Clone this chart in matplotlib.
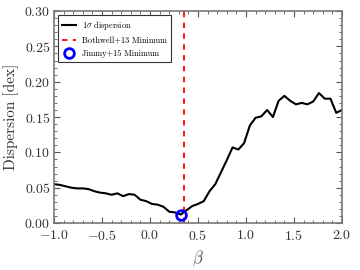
import matplotlib
matplotlib.use("Agg")
import matplotlib.pyplot as plt
from matplotlib.ticker import MultipleLocator, FuncFormatter

plt.rcParams['font.family'] = 'serif'
plt.rcParams['font.serif'] = ['cmr10', 'DejaVu Serif']
plt.rcParams['mathtext.fontset'] = 'cm'
plt.rcParams['axes.formatter.use_mathtext'] = True

beta = [-1.00, -0.94, -0.88, -0.82, -0.76, -0.70, -0.64, -0.58, -0.52, -0.46,
        -0.40, -0.34, -0.28, -0.22, -0.16, -0.10, -0.04, 0.02, 0.08, 0.14,
        0.20, 0.26, 0.32, 0.38, 0.44, 0.50, 0.56, 0.62, 0.68, 0.74,
        0.80, 0.86, 0.92, 0.98, 1.04, 1.10, 1.16, 1.22, 1.28, 1.34,
        1.40, 1.46, 1.52, 1.58, 1.64, 1.70, 1.76, 1.82, 1.88, 1.94, 2.00]
dispersion = [0.055, 0.054, 0.052, 0.050, 0.049, 0.049, 0.048, 0.045, 0.043, 0.042,
              0.040, 0.042, 0.038, 0.041, 0.040, 0.033, 0.031, 0.027, 0.026, 0.023,
              0.016, 0.015, 0.012, 0.018, 0.024, 0.027, 0.031, 0.045, 0.055, 0.072,
              0.089, 0.107, 0.104, 0.113, 0.138, 0.149, 0.151, 0.160, 0.150, 0.173,
              0.180, 0.173, 0.168, 0.170, 0.168, 0.172, 0.184, 0.176, 0.176, 0.156, 0.160]
bothwell_min = 0.35
jimmy_min_beta = 0.32
jimmy_min_disp = 0.012

fig = plt.figure(figsize=(3.6, 2.7), dpi=100)
ax = fig.add_axes([0.15, 0.174, 0.80, 0.785])

ax.plot(beta, dispersion, color='black', lw=1.5, label=r'1$\sigma$ dispersion')
ax.axvline(bothwell_min, color='red', ls='--', lw=1.3, dashes=(3, 3),
           label='Bothwell+13 Minimum')
ax.plot([jimmy_min_beta], [jimmy_min_disp], 'o', mfc='none', mec='blue', mew=2,
        ms=7, ls='none', label='Jimmy+15 Minimum')

ax.set_xlim(-1, 2)
ax.set_ylim(0, 0.30)
ax.xaxis.set_major_locator(MultipleLocator(0.5))
ax.xaxis.set_minor_locator(MultipleLocator(0.1))
ax.yaxis.set_major_locator(MultipleLocator(0.05))
ax.yaxis.set_minor_locator(MultipleLocator(0.01))
ax.yaxis.set_major_formatter(FuncFormatter(lambda v, p: r'$%.2f$' % v))
ax.xaxis.set_major_formatter(FuncFormatter(lambda v, p: r'$%.1f$' % v))
ax.tick_params(which='both', direction='in', top=True, right=True, colors='#555555',
               labelcolor='#333333', labelsize=10)
ax.tick_params(axis='y', pad=2.5)
ax.tick_params(axis='x', pad=4.5)
ax.tick_params(which='major', length=4)
ax.tick_params(which='minor', length=2)
for s in ax.spines.values():
    s.set_color('#777777')
    s.set_linewidth(1.2)

ax.set_xlabel(r'$\beta$', fontsize=12, color='#555555')
ax.set_ylabel('Dispersion [dex]', fontsize=11, color='#333333')

leg = ax.legend(loc='upper left', fontsize=6, fancybox=False, edgecolor='#333333',
                framealpha=1, handlelength=1.6, borderpad=0.5, labelspacing=0.5)
leg.get_frame().set_linewidth(0.8)

fig.savefig('out.png', dpi=100)
